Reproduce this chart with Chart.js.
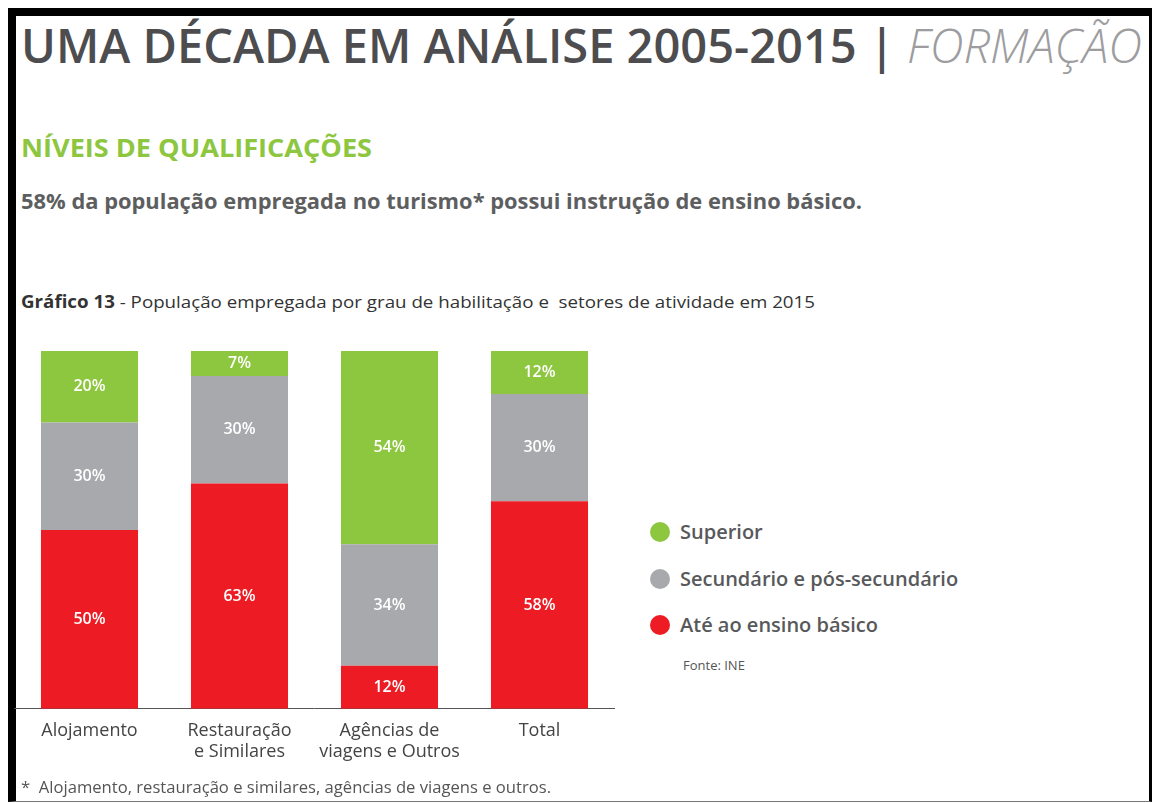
<!DOCTYPE html>
<html lang="pt">
<head>
<meta charset="utf-8">
<title>Níveis de qualificações</title>
<script src="https://cdn.jsdelivr.net/npm/chart.js@4.4.1/dist/chart.umd.min.js"></script>
<style>
  html, body { margin: 0; padding: 0; background: #fff; }
  body { width: 1152px; height: 803px; position: relative; overflow: hidden; font-family: "Open Sans", sans-serif; }
  .frame { position: absolute; left: 8px; top: 8px; width: 1133px; height: 785px;
           border-top: 8px solid #000; border-left: 8px solid #000; border-right: 3px solid #000;
           border-bottom: 1px solid #777; }
  .txt { position: absolute; white-space: nowrap; transform-origin: 0 0; line-height: 1; }
  #title { left: 21px; top: 22px; font-size: 47px; font-weight: 600; color: #4d4d4f; }
  #title i { font-weight: 300; color: #9d9d9f; }
  #section { left: 21px; top: 135px; font-size: 25px; font-weight: 700; color: #8dc63f; }
  #lead { left: 21px; top: 191px; font-size: 21px; font-weight: 700; color: #5d5e60; }
  #caption { left: 21px; top: 293px; font-size: 17px; color: #333; }
  #caption b { font-weight: 700; }
  #note { left: 21px; top: 779px; font-size: 16px; color: #555; }
  #legend { position: absolute; left: 650px; top: 521px; }
  .item { position: relative; height: 46.5px; white-space: nowrap; }
  .dot { position: absolute; left: 0; top: 1px; width: 20px; height: 20px; border-radius: 50%; }
  .lab { position: absolute; left: 30px; top: 0; font-size: 20px; line-height: 22px; font-weight: 600; color: #58595b; }
  #source { position: absolute; left: 683px; top: 656px; font-size: 13px; color: #555; }
  #wrap { position: absolute; left: 0; top: 330px; width: 640px; height: 450px; }
</style>
</head>
<body>
<div class="frame"></div>
<div class="txt" id="title" data-w="1121">UMA DÉCADA EM ANÁLISE 2005-2015 | <i>FORMAÇÃO</i></div>
<div class="txt" id="section" data-w="351">NÍVEIS DE QUALIFICAÇÕES</div>
<div class="txt" id="lead" data-w="841">58% da população empregada no turismo* possui instrução de ensino básico.</div>
<div class="txt" id="caption" data-w="794"><b>Gráfico 13</b> - População empregada por grau de habilitação e&nbsp; setores de atividade em 2015</div>
<div id="wrap"><canvas id="chartCanvas"></canvas></div>
<div id="legend"></div>
<div id="source">Fonte: INE</div>
<div class="txt" id="note" data-w="530">*&nbsp; Alojamento, restauração e similares, agências de viagens e outros.</div>

<script>
"use strict";

// categorias (eixo x)
const categories = [
    ['Alojamento'],
    ['Restauração', 'e Similares'],
    ['Agências de', 'viagens e Outros'],
    ['Total']
];

// séries (% da população empregada)
const seriesNames = ['Até ao ensino básico', 'Secundário e pós-secundário', 'Superior'];
const basico = [50, 63, 12, 58];
const secundario = [30, 30, 34, 30];
const superior = [20, 7, 54, 12];

const colors = ['#ed1c24', '#a7a9ac', '#8dc63f'];

// squeeze the html texts to the widths of the original
document.querySelectorAll('.txt[data-w]').forEach(function (el) {
    const w = el.getBoundingClientRect().width;
    el.style.transform = 'scaleX(' + (Number(el.dataset.w) / w) + ')';
});

// legend, top to bottom = Superior first
const legend = document.getElementById('legend');
[2, 1, 0].forEach(function (i) {
    const row = document.createElement('div');
    row.className = 'item';
    row.innerHTML = '<span class="dot" style="background:' + colors[i] + '"></span><span class="lab">' + seriesNames[i] + '</span>';
    legend.appendChild(row);
});

// white % labels in the middle of each segment
const segmentLabels = {
    id: 'segmentLabels',
    afterDatasetsDraw(chart) {
        const ctx = chart.ctx;
        ctx.save();
        ctx.fillStyle = '#ffffff';
        ctx.font = '600 16px "Open Sans"';
        ctx.textAlign = 'center';
        ctx.textBaseline = 'middle';
        chart.data.datasets.forEach(function (ds, di) {
            chart.getDatasetMeta(di).data.forEach(function (bar, i) {
                const y = (bar.y + bar.base) / 2;
                ctx.fillText(ds.data[i] + '%', bar.x, y);
            });
        });
        ctx.restore();
    }
};

const ctx = document.getElementById('chartCanvas');

const data = {
    labels: categories,
    datasets: [
        { label: seriesNames[0], data: basico, backgroundColor: colors[0] },
        { label: seriesNames[1], data: secundario, backgroundColor: colors[1] },
        { label: seriesNames[2], data: superior, backgroundColor: colors[2] }
    ]
};

const config = {
    type: 'bar',
    data: data,
    options: {
        responsive: true,
        maintainAspectRatio: false,
        animation: false,
        layout: { padding: { left: 14.5, right: 25.5, top: 21, bottom: 14 } },
        datasets: {
            bar: { categoryPercentage: 1, barPercentage: 0.647, borderWidth: 0 }
        },
        plugins: {
            legend: { display: false },
            tooltip: { enabled: false }
        },
        scales: {
            x: {
                stacked: true,
                grid: { display: false },
                border: { display: true, color: '#555', width: 1 },
                ticks: {
                    color: '#444',
                    padding: 3,
                    font: { family: 'Open Sans', size: 18 },
                    maxRotation: 0,
                    autoSkip: false
                }
            },
            y: {
                stacked: true,
                display: false,
                min: 0,
                max: 100
            }
        }
    },
    plugins: [segmentLabels]
};

new Chart(ctx, config);
</script>
</body>
</html>
